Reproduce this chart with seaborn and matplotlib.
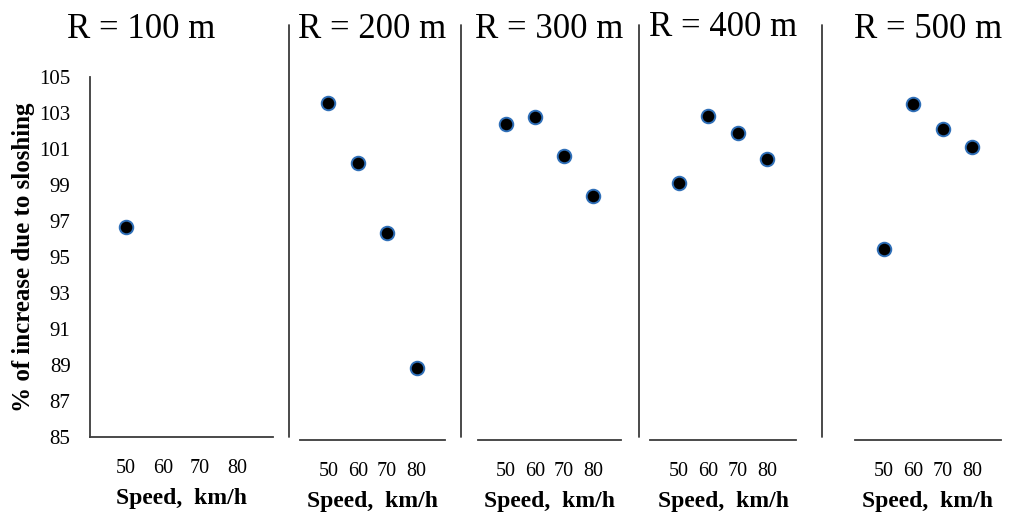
import numpy as np
import pandas as pd
import matplotlib
matplotlib.use("Agg")
import matplotlib.pyplot as plt
import seaborn as sns
from matplotlib.lines import Line2D

# data
radii = ["R = 100 m", "R = 200 m", "R = 300 m", "R = 400 m", "R = 500 m"]
speeds = [50, 60, 70, 80]
r100 = [96.65]
r200 = [103.74, 100.41, 96.48, 89.02]
r300 = [102.54, 102.93, 100.76, 98.57]
r400 = [99.26, 103.02, 102.07, 100.61]
r500 = [95.61, 103.67, 102.26, 101.29]
yticks = list(range(85, 106, 2))

series = [r100, r200, r300, r400, r500]

sns.set_theme(style="white")
plt.rcParams["font.family"] = ["Liberation Serif", "DejaVu Serif"]
plt.rcParams["text.color"] = "black"
plt.rcParams["xtick.color"] = "black"
plt.rcParams["ytick.color"] = "black"
plt.rcParams["axes.labelcolor"] = "black"

W, H = 1014, 516
fig = plt.figure(figsize=(W / 100, H / 100), dpi=100)

# axes boxes in pixels: left, right, top, bottom
boxes = [(90, 273, 77, 437), (300, 445, 80, 440), (478, 621, 80, 440),
         (650, 796, 80, 440), (855, 1001, 80, 440)]
title_x = [0.28, 0.5, 0.5, 0.5, 0.5]
title_pad = [28, 30, 30, 32, 30]

spine_col = "#3c3c3c"
for i, (l, r, t, b) in enumerate(boxes):
    ax = fig.add_axes([l / W, 1 - b / H, (r - l) / W, (b - t) / H])
    vals = series[i]
    df = pd.DataFrame({"speed": speeds[:len(vals)], "pct": vals})
    sns.scatterplot(data=df, x="speed", y="pct", ax=ax, s=95, color="black",
                    edgecolor="#2f6fb8", linewidth=1.4, zorder=3)
    ax.set_xlim(40.3, 89.7)
    ax.set_ylim(85, 105)
    ax.set_xticks(speeds)
    ax.set_xticklabels([str(s) for s in speeds], fontsize=14.5)
    ax.tick_params(axis="x", length=0, pad=16)
    ax.set_xlabel("Speed,  km/h", fontsize=17, fontweight="bold", labelpad=7)
    ax.set_title(radii[i], fontsize=25, x=title_x[i], pad=title_pad[i])
    for side in ["top", "right"]:
        ax.spines[side].set_visible(False)
    ax.spines["bottom"].set_color(spine_col)
    ax.spines["bottom"].set_linewidth(1.3)
    if i == 0:
        ax.set_yticks(yticks)
        ax.set_yticklabels([str(v) for v in yticks], fontsize=15)
        ax.tick_params(axis="y", length=0, pad=14)
        ax.spines["left"].set_color(spine_col)
        ax.spines["left"].set_linewidth(1.3)
        ax.set_ylabel("% of increase due to sloshing", fontsize=18,
                      fontweight="bold", labelpad=3)
    else:
        ax.spines["left"].set_visible(False)
        ax.set_yticks([])
        ax.set_ylabel("")

# separator lines between panels
for xs in [289, 461, 639, 822]:
    fig.add_artist(Line2D([xs / W, xs / W], [1 - 25 / H, 1 - 437 / H],
                          transform=fig.transFigure, color=spine_col, lw=1.3))

fig.savefig("out.png", dpi=100)
